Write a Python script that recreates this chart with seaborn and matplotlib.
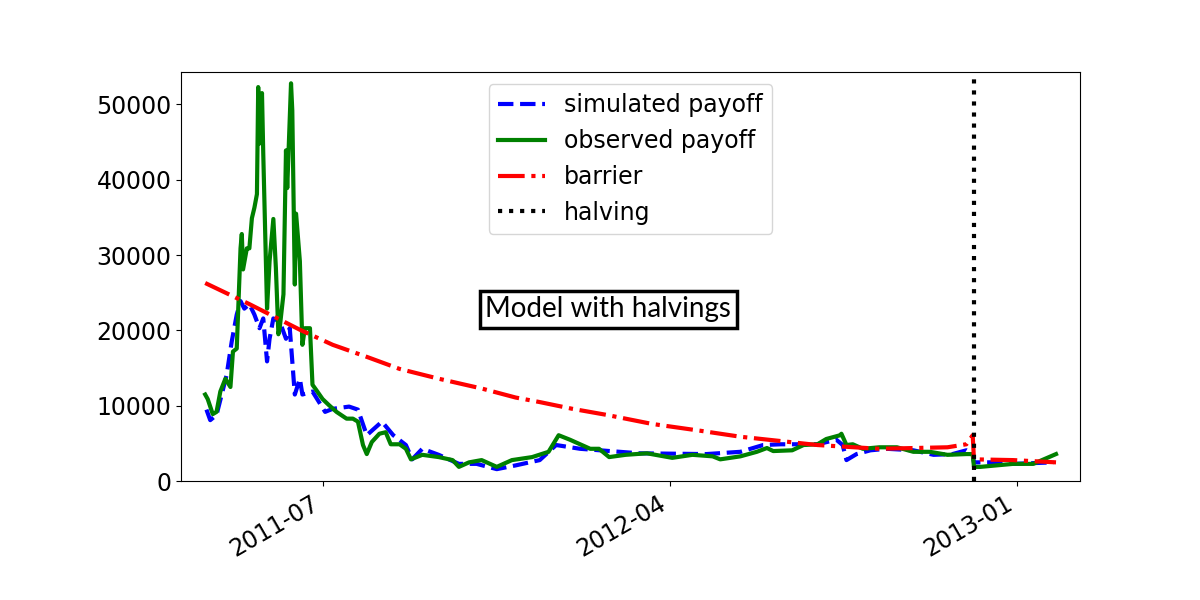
import pandas as pd
import seaborn as sns
import matplotlib.pyplot as plt
import matplotlib.dates as mdates

plt.rcParams['font.family'] = 'DejaVu Sans'

# observed payoff (green)
obs_dates = ["2011-03-30", "2011-04-01", "2011-04-05", "2011-04-08", "2011-04-11", "2011-04-15",
             "2011-04-19", "2011-04-21", "2011-04-24", "2011-04-27", "2011-04-28", "2011-04-29",
             "2011-05-02", "2011-05-04", "2011-05-06", "2011-05-08", "2011-05-10", "2011-05-11",
             "2011-05-12", "2011-05-14", "2011-05-15", "2011-05-18", "2011-05-20", "2011-05-23",
             "2011-05-25", "2011-05-27", "2011-05-28", "2011-05-31", "2011-06-02", "2011-06-03",
             "2011-06-06", "2011-06-07", "2011-06-09", "2011-06-10", "2011-06-13", "2011-06-15",
             "2011-06-17", "2011-06-21", "2011-06-23", "2011-06-26", "2011-07-01", "2011-07-06",
             "2011-07-12", "2011-07-20", "2011-07-25", "2011-07-29", "2011-08-02", "2011-08-05",
             "2011-08-09", "2011-08-15", "2011-08-20", "2011-08-24", "2011-08-31", "2011-09-05",
             "2011-09-09", "2011-09-18", "2011-10-01", "2011-10-12", "2011-10-17", "2011-10-25",
             "2011-11-04", "2011-11-16", "2011-11-28", "2011-12-14", "2011-12-27", "2012-01-04",
             "2012-01-13", "2012-01-21", "2012-01-29", "2012-02-05", "2012-02-13", "2012-02-26",
             "2012-03-14", "2012-04-03", "2012-04-19", "2012-05-05", "2012-05-11", "2012-05-27",
             "2012-06-09", "2012-06-17", "2012-06-22", "2012-07-07", "2012-07-16", "2012-07-27",
             "2012-08-03", "2012-08-14", "2012-08-15", "2012-08-19", "2012-08-24", "2012-09-01",
             "2012-09-14", "2012-09-28", "2012-10-11", "2012-10-24", "2012-11-07", "2012-11-22",
             "2012-11-27", "2012-11-28", "2012-12-03", "2012-12-29", "2013-01-14", "2013-02-01"]
obs_values = [11500, 10900, 8900, 9200, 11900, 13600,
              12500, 17200, 17600, 30900, 32800, 28100,
              30900, 30900, 34900, 36300, 38100, 52300,
              44800, 51500, 43500, 22900, 29200, 34800,
              28300, 19500, 20300, 24800, 43900, 38900,
              52800, 49200, 26100, 35500, 29200, 18100,
              20300, 20300, 12800, 12100, 10900, 10100,
              9200, 8300, 8300, 7900, 4800, 3600,
              5200, 6300, 6500, 4900, 4900, 4300,
              2900, 3500, 3200, 2800, 1900, 2500,
              2800, 1900, 2800, 3200, 3900, 6100,
              5500, 4900, 4300, 4300, 3200, 3500,
              3700, 3100, 3500, 3300, 2900, 3300,
              3900, 4400, 4000, 4100, 4800, 4900,
              5600, 6100, 6300, 4800, 4900, 4300,
              4500, 4500, 3900, 3900, 3500, 3600,
              3600, 1900, 1900, 2300, 2300, 3600]

# simulated payoff (blue)
sim_dates = ["2011-03-31", "2011-04-03", "2011-04-08", "2011-04-16", "2011-04-20", "2011-04-24",
             "2011-04-27", "2011-04-30", "2011-05-04", "2011-05-08", "2011-05-12", "2011-05-15",
             "2011-05-18", "2011-05-20", "2011-05-23", "2011-05-28", "2011-06-02", "2011-06-05",
             "2011-06-09", "2011-06-13", "2011-06-15", "2011-06-23", "2011-07-03", "2011-07-09",
             "2011-07-22", "2011-07-29", "2011-08-05", "2011-08-17", "2011-08-26", "2011-09-05",
             "2011-09-10", "2011-09-18", "2011-10-01", "2011-10-17", "2011-10-31", "2011-11-16",
             "2011-12-01", "2011-12-20", "2012-01-02", "2012-01-21", "2012-03-08", "2012-04-30",
             "2012-05-27", "2012-06-14", "2012-06-28", "2012-07-27", "2012-08-11", "2012-08-16",
             "2012-08-19", "2012-08-27", "2012-09-07", "2012-09-20", "2012-10-11", "2012-10-27",
             "2012-11-11", "2012-11-22", "2012-11-27", "2012-11-28", "2012-12-17", "2012-12-29",
             "2013-01-30"]
sim_values = [9500, 8100, 8800, 14100, 18500, 22100,
              23900, 22900, 23500, 22100, 20300, 21600,
              15900, 18900, 21600, 21200, 18900, 20300,
              11500, 13600, 11500, 11900, 9200, 9600,
              9900, 9500, 6100, 7900, 6100, 4800,
              2900, 4300, 3500, 2300, 2300, 1600,
              2100, 2800, 4800, 4300, 3700, 3600,
              3900, 4800, 4900, 4900, 5500, 4800,
              2800, 3600, 4100, 4300, 4100, 3500,
              3600, 4100, 3600, 2500, 2500, 2300,
              2500]

# barrier (red)
bar_dates = ["2011-03-30", "2011-05-04", "2011-06-13", "2011-07-09", "2011-08-05", "2011-08-31",
             "2011-10-01", "2011-11-04", "2011-12-01", "2011-12-20", "2012-01-15", "2012-02-11",
             "2012-03-18", "2012-04-25", "2012-05-27", "2012-07-05", "2012-07-27", "2012-09-14",
             "2012-11-07", "2012-11-22", "2012-11-27", "2012-11-28", "2012-12-29", "2013-02-01"]
bar_values = [26300, 23500, 20100, 18100, 16500, 14900,
              13600, 12300, 11100, 10500, 9600, 8800,
              7600, 6700, 5900, 5200, 4800, 4300,
              4500, 4900, 6100, 2900, 2800, 2500]

halving_date = "2012-11-28"
tick_labels = ["2011-07", "2012-04", "2013-01"]

fig, ax = plt.subplots(figsize=(12, 6), dpi=100)
fig.subplots_adjust(left=0.151, right=0.9, top=0.88, bottom=0.198)

sns.lineplot(x=pd.to_datetime(sim_dates), y=sim_values, ax=ax, color="blue",
             linestyle="--", linewidth=3, label="simulated payoff")
sns.lineplot(x=pd.to_datetime(obs_dates), y=obs_values, ax=ax, color="green",
             linestyle="-", linewidth=3, label="observed payoff")
sns.lineplot(x=pd.to_datetime(bar_dates), y=bar_values, ax=ax, color="red",
             linestyle="-.", linewidth=3, label="barrier")
ax.axvline(pd.to_datetime(halving_date), color="black", linestyle=":", linewidth=3, label="halving")

ax.set_xlim(pd.Timestamp("2011-03-11"), pd.Timestamp("2013-02-20"))
ax.set_ylim(0, 54300)
ax.set_xticks(pd.to_datetime(tick_labels))
ax.xaxis.set_major_formatter(mdates.DateFormatter("%Y-%m"))
ax.tick_params(labelsize=17)
for lbl in ax.get_xticklabels():
    lbl.set_rotation(30)
    lbl.set_ha("right")
ax.set_xlabel("")
ax.set_ylabel("")

ax.legend(loc="upper center", fontsize=17, bbox_to_anchor=(0.5, 1.0))

ax.text(0.475, 0.42, "Model with halvings", transform=ax.transAxes, ha="center", va="center",
        fontsize=20, family="Lato",
        bbox=dict(boxstyle="square,pad=0.2", facecolor="white", edgecolor="black", linewidth=2.5))

plt.savefig("out.png", dpi=100)
